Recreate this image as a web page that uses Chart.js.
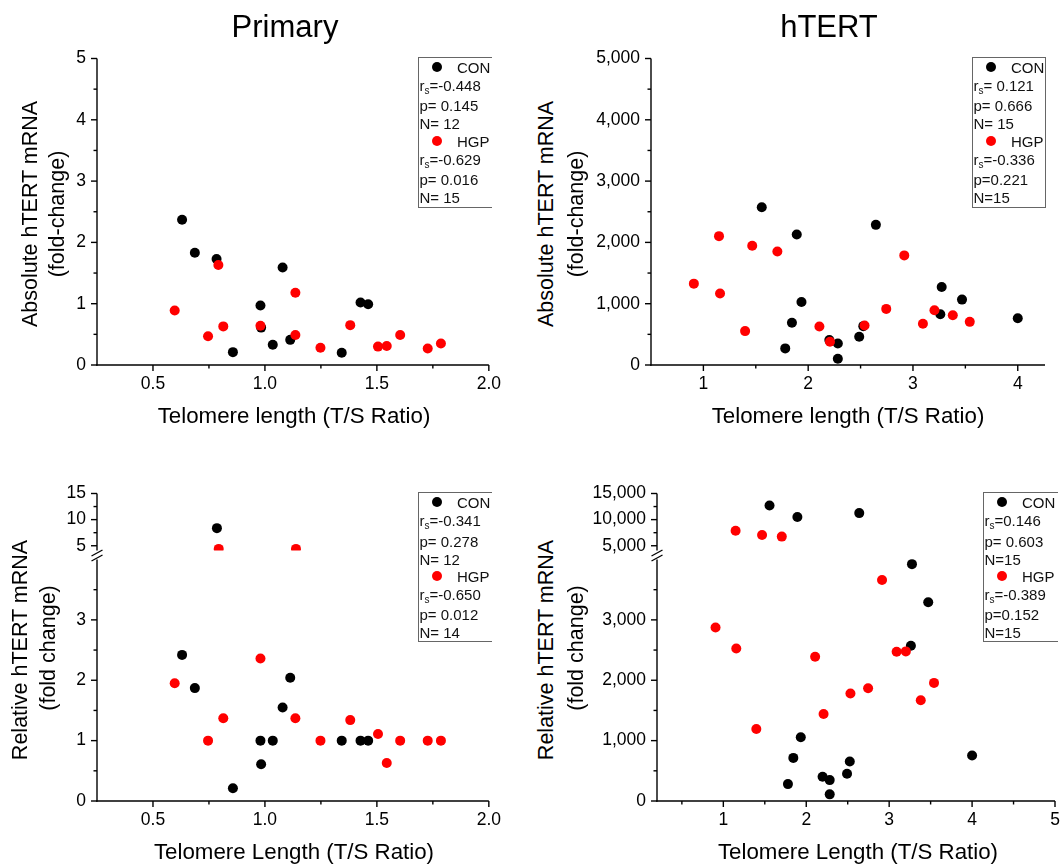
<!DOCTYPE html>
<html><head><meta charset="utf-8">
<script src="https://cdn.jsdelivr.net/npm/chart.js@4.4.1/dist/chart.umd.min.js"></script>
<style>
html,body{margin:0;padding:0;background:#fff}
body{width:1062px;height:864px;overflow:hidden;position:relative;font-family:'Liberation Sans',Arial,sans-serif;color:#000}
canvas{position:absolute}
.c{position:absolute;white-space:nowrap;line-height:1;transform:translate(-50%,-50%)}
.r{position:absolute;white-space:nowrap;line-height:1;transform:translate(-50%,-50%) rotate(-90deg)}
.lg{position:absolute;box-sizing:border-box;border:1px solid #666}
.lt{position:absolute;white-space:nowrap;line-height:1;transform:translateY(-50%);font-size:15px;color:#111}
.lt sub{font-size:10px;vertical-align:-3px;line-height:0}
.dot{position:absolute;width:10px;height:10px;border-radius:50%;transform:translate(-50%,-50%)}
</style></head><body>
<script>
// ---------------- DATA ----------------
// Panel 1: Primary, absolute hTERT mRNA
const con1X = [0.630,0.687,0.784,0.857,0.980,0.983,1.035,1.079,1.113,1.343,1.427,1.461];
const con1Y = [2.37,1.83,1.73,0.21,0.97,0.61,0.33,1.59,0.41,0.20,1.02,0.99];
const hgp1X = [0.597,0.746,0.792,0.814,0.980,1.136,1.136,1.248,1.381,1.505,1.544,1.604,1.727,1.786];
const hgp1Y = [0.89,0.47,1.63,0.63,0.64,1.18,0.49,0.28,0.65,0.30,0.31,0.49,0.27,0.35];
// Panel 2: hTERT, absolute hTERT mRNA
const con2X = [1.557,1.891,1.936,1.845,1.781,2.202,2.283,2.283,2.487,2.526,2.646,3.274,3.261,3.468,4.000];
const con2Y = [2573,2129,1029,688,271,406,352,103,460,634,2286,1273,829,1067,764];
const hgp2X = [0.909,1.149,1.159,1.398,1.466,1.706,2.107,2.208,2.538,2.745,2.917,3.095,3.205,3.380,3.542];
const hgp2Y = [1327,2102,1165,553,1945,1853,628,379,645,915,1788,672,894,813,704];
// Panel 3: Primary, relative hTERT mRNA (broken axis)
const con3X = [0.630,0.687,0.784,0.857,0.980,0.983,1.035,1.079,1.113,1.343,1.427,1.461];
const con3Y = [2.42,1.87,8.37,0.21,1.00,0.61,1.00,1.55,2.04,1.00,1.00,1.00];
const hgp3X = [0.597,0.746,0.792,0.814,0.980,1.136,1.136,1.248,1.381,1.505,1.544,1.604,1.727,1.786];
const hgp3Y = [1.95,1.00,4.40,1.37,2.36,4.40,1.37,1.00,1.34,1.11,0.63,1.00,1.00,1.00];
const p3Break = 4;
// Panel 4: hTERT, relative hTERT mRNA (broken axis)
const con4X = [1.557,1.893,2.639,3.275,3.471,3.262,1.934,1.844,1.779,2.197,2.283,2.283,2.492,2.525,4.000];
const con4Y = [12688,10500,11250,3923,3291,2571,1055,714,280,401,346,110,451,654,753];
const hgp4X = [1.148,1.467,1.705,2.914,0.906,1.156,2.107,3.090,3.201,3.541,2.746,2.533,3.381,2.209,1.398];
const hgp4Y = [7875,7063,6750,3659,2874,2527,2390,2473,2478,1956,1868,1780,1670,1440,1192];
const p4Break = 4000;

// Tick values / labels
const p1XTicks = [0.5,1.0,1.5,2.0], p1XLabels = ['0.5','1.0','1.5','2.0'], p1XMinor = [0.75,1.25,1.75];
const p1YTicks = [0,1,2,3,4,5], p1YLabels = ['0','1','2','3','4','5'], p1YMinor = [0.5,1.5,2.5,3.5,4.5];
const p2XTicks = [1,2,3,4], p2XLabels = ['1','2','3','4'], p2XMinor = [1.5,2.5,3.5];
const p2YTicks = [0,1000,2000,3000,4000,5000], p2YLabels = ['0','1,000','2,000','3,000','4,000','5,000'], p2YMinor = [500,1500,2500,3500,4500];
const p3LoYTicks = [0,1,2,3], p3LoYLabels = ['0','1','2','3'], p3LoYMinor = [0.5,1.5,2.5,3.5];
const p3HiYTicks = [5,10,15], p3HiYLabels = ['5','10','15'], p3HiYMinor = [7.5,12.5];
const p4XTicks = [1,2,3,4,5], p4XLabels = ['1','2','3','4','5'], p4XMinor = [0.5,1.5,2.5,3.5,4.5];
const p4LoYTicks = [0,1000,2000,3000], p4LoYLabels = ['0','1,000','2,000','3,000'], p4LoYMinor = [500,1500,2500,3500];
const p4HiYTicks = [5000,10000,15000], p4HiYLabels = ['5,000','10,000','15,000'], p4HiYMinor = [7500,12500];

// Legend texts
const leg1 = ['CON','=-0.448','p= 0.145','N= 12','HGP','=-0.629','p= 0.016','N= 15'];
const leg2 = ['CON','= 0.121','p= 0.666','N= 15','HGP','=-0.336','p=0.221','N=15'];
const leg3 = ['CON','=-0.341','p= 0.278','N= 12','HGP','=-0.650','p= 0.012','N= 14'];
const leg4 = ['CON','=0.146','p= 0.603','N=15','HGP','=-0.389','p=0.152','N=15'];

// ---------------- RENDERING ----------------
const FONT = "'Liberation Sans', Arial, sans-serif";
Chart.defaults.font.family = FONT;
Chart.defaults.color = '#000';
const WY = 70, HX = 40, P = 20, TICK = 17.5;

const tickMarks = {
  id: 'tickMarks',
  afterDraw(chart, args, o) {
    const ctx = chart.ctx, a = chart.chartArea, xs = chart.scales.x, ys = chart.scales.y;
    ctx.save();
    ctx.strokeStyle = '#000';
    ctx.lineWidth = 1.4;
    const seg = (x1,y1,x2,y2) => { ctx.beginPath(); ctx.moveTo(x1,y1); ctx.lineTo(x2,y2); ctx.stroke(); };
    seg(a.left, a.top, a.left, a.bottom + (o.showX ? 0.7 : 0));
    if (o.showX) {
      seg(a.left - 0.7, a.bottom, a.right, a.bottom);
      o.xMajor.forEach(v => { const p = xs.getPixelForValue(v); seg(p, a.bottom, p, a.bottom + 6); });
      o.xMinor.forEach(v => { const p = xs.getPixelForValue(v); seg(p, a.bottom, p, a.bottom + 3.5); });
    }
    o.yMajor.forEach(v => { const p = ys.getPixelForValue(v); seg(a.left, p, a.left - 6, p); });
    o.yMinor.forEach(v => { const p = ys.getPixelForValue(v); seg(a.left, p, a.left - 3.5, p); });
    if (o.brk) {
      ctx.lineWidth = 1.3;
      [a.top - 6.5, a.top - 1.5].forEach(cy => seg(a.left - 5.5, cy + 3, a.left + 5.5, cy - 3));
    }
    ctx.restore();
  }
};

function panel(c) {
  const hx = c.showX ? HX : 0;
  const lo = c.lo === undefined ? -Infinity : c.lo, hi = c.hi === undefined ? Infinity : c.hi;
  const cv = document.createElement('canvas');
  const left = c.L - WY - P, top = c.T - P;
  const w = c.R - c.L + WY + 2 * P, h = c.B - c.T + hx + 2 * P;
  cv.width = w; cv.height = h;
  cv.style.left = left + 'px'; cv.style.top = top + 'px';
  cv.style.width = w + 'px'; cv.style.height = h + 'px';
  document.body.appendChild(cv);
  const mk = (xs, ys, col) => ({
    data: xs.map((x, i) => ({ x: x, y: ys[i] })).filter(p => p.y > lo && p.y <= hi),
    backgroundColor: col, borderColor: col, borderWidth: 0,
    pointRadius: 5, pointHoverRadius: 5, clip: c.clip
  });
  new Chart(cv, {
    type: 'scatter',
    data: { datasets: [mk(c.hgpX, c.hgpY, '#ff0000'), mk(c.conX, c.conY, '#000000')] },
    options: {
      responsive: false, animation: false, events: [],
      layout: { padding: P },
      plugins: {
        legend: { display: false }, tooltip: { enabled: false },
        tickMarks: { showX: c.showX, xMajor: c.xTicks, xMinor: c.xMinor, yMajor: c.yTicks, yMinor: c.yMinor, brk: c.brk }
      },
      scales: {
        x: {
          type: 'linear', min: c.xMin, max: c.xMax, display: c.showX,
          grid: { display: false, drawTicks: false }, border: { display: false },
          afterBuildTicks: s => { s.ticks = c.xTicks.map(v => ({ value: v })); },
          afterFit: s => { s.height = hx; },
          ticks: { autoSkip: false, maxRotation: 0, minRotation: 0, padding: 9, font: { size: TICK }, color: '#000',
                   callback: (v, i) => c.xLabels[i] }
        },
        y: {
          type: 'linear', min: c.yMin, max: c.yMax,
          grid: { display: false, drawTicks: false }, border: { display: false },
          afterBuildTicks: s => { s.ticks = c.yTicks.map(v => ({ value: v })); },
          afterFit: s => { s.width = WY; },
          ticks: { autoSkip: false, padding: 11, font: { size: TICK }, color: '#000',
                   callback: (v, i) => c.yLabels[i] }
        }
      }
    },
    plugins: [tickMarks]
  });
}

// Panel 1
panel({ L: 97, T: 57, R: 490, B: 365, xMin: 0.25, xMax: 2.0, yMin: 0, yMax: 5, showX: true, clip: 0,
  xTicks: p1XTicks, xLabels: p1XLabels, xMinor: p1XMinor, yTicks: p1YTicks, yLabels: p1YLabels, yMinor: p1YMinor,
  conX: con1X, conY: con1Y, hgpX: hgp1X, hgpY: hgp1Y });
// Panel 2
panel({ L: 651, T: 57, R: 1045, B: 365, xMin: 0.5, xMax: 4.26, yMin: 0, yMax: 5000, showX: true, clip: 0,
  xTicks: p2XTicks, xLabels: p2XLabels, xMinor: p2XMinor, yTicks: p2YTicks, yLabels: p2YLabels, yMinor: p2YMinor,
  conX: con2X, conY: con2Y, hgpX: hgp2X, hgpY: hgp2Y });
// Panel 3 lower + upper
panel({ L: 97, T: 558, R: 490, B: 801, xMin: 0.25, xMax: 2.0, yMin: 0, yMax: 4, showX: true, brk: true,
  clip: { left: 0, top: 6, right: 0, bottom: 0 }, hi: p3Break,
  xTicks: p1XTicks, xLabels: p1XLabels, xMinor: p1XMinor, yTicks: p3LoYTicks, yLabels: p3LoYLabels, yMinor: p3LoYMinor,
  conX: con3X, conY: con3Y, hgpX: hgp3X, hgpY: hgp3Y });
panel({ L: 97, T: 492, R: 490, B: 552, xMin: 0.25, xMax: 2.0, yMin: 4.09, yMax: 15, showX: false, clip: 0, lo: p3Break,
  xTicks: [], xLabels: [], xMinor: [], yTicks: p3HiYTicks, yLabels: p3HiYLabels, yMinor: p3HiYMinor,
  conX: con3X, conY: con3Y, hgpX: hgp3X, hgpY: hgp3Y });
// Panel 4 lower + upper
panel({ L: 657, T: 558, R: 1055, B: 801, xMin: 0.2, xMax: 5, yMin: 0, yMax: 4000, showX: true, brk: true,
  clip: { left: 0, top: 6, right: 0, bottom: 0 }, hi: p4Break,
  xTicks: p4XTicks, xLabels: p4XLabels, xMinor: p4XMinor, yTicks: p4LoYTicks, yLabels: p4LoYLabels, yMinor: p4LoYMinor,
  conX: con4X, conY: con4Y, hgpX: hgp4X, hgpY: hgp4Y });
panel({ L: 657, T: 492, R: 1055, B: 552, xMin: 0.2, xMax: 5, yMin: 4090, yMax: 15000, showX: false, clip: 0, lo: p4Break,
  xTicks: [], xLabels: [], xMinor: [], yTicks: p4HiYTicks, yLabels: p4HiYLabels, yMinor: p4HiYMinor,
  conX: con4X, conY: con4Y, hgpX: hgp4X, hgpY: hgp4Y });

// ---------------- TEXT ----------------
function txt(cls, s, x, y, size) {
  const d = document.createElement('div');
  d.className = cls; d.textContent = s;
  d.style.left = x + 'px'; d.style.top = y + 'px'; d.style.fontSize = size + 'px';
  document.body.appendChild(d);
}
const AX = 22.3;
txt('c', 'Primary', 285, 26, 31);
txt('c', 'hTERT', 829, 26, 31);
txt('c', 'Telomere length (T/S Ratio)', 294, 416, AX);
txt('c', 'Telomere length (T/S Ratio)', 848, 416, AX);
txt('c', 'Telomere Length (T/S Ratio)', 294, 852, AX);
txt('c', 'Telomere Length (T/S Ratio)', 858, 852, AX);
txt('r', 'Absolute hTERT mRNA', 31, 214, 21.5);
txt('r', '(fold-change)', 58, 214, 21.5);
txt('r', 'Absolute hTERT mRNA', 547, 214, 21.5);
txt('r', '(fold-change)', 577, 214, 21.5);
txt('r', 'Relative hTERT mRNA', 21, 650, 21.5);
txt('r', '(fold change)', 49, 648, 21.5);
txt('r', 'Relative hTERT mRNA', 547, 650, 21.5);
txt('r', '(fold change)', 577, 648, 21.5);

function legend(x0, top, bottom, right, rightBorder, lines, ys) {
  const b = document.createElement('div');
  b.className = 'lg';
  b.style.left = x0 + 'px'; b.style.top = top + 'px';
  b.style.width = (right - x0) + 'px'; b.style.height = (bottom - top) + 'px';
  if (!rightBorder) b.style.borderRight = 'none';
  document.body.appendChild(b);
  lines.forEach((s, i) => {
    const d = document.createElement('div');
    d.className = 'lt';
    d.style.top = ys[i] + 'px';
    if (i === 0 || i === 4) {
      d.style.left = (x0 + 39.5) + 'px';
      d.textContent = s;
      const dot = document.createElement('div');
      dot.className = 'dot';
      dot.style.left = (x0 + 19.5) + 'px'; dot.style.top = ys[i] + 'px';
      dot.style.background = i === 0 ? '#000' : '#ff0000';
      document.body.appendChild(dot);
    } else if (i === 1 || i === 5) {
      d.style.left = (x0 + 2) + 'px';
      d.innerHTML = 'r<sub>s</sub>' + s;
    } else {
      d.style.left = (x0 + 2) + 'px';
      d.textContent = s;
    }
    document.body.appendChild(d);
  });
}
const topYs = [66.5, 84.5, 105, 123, 140.5, 158.5, 179.3, 197];
const botYs = [501.5, 519.5, 541, 559, 575.5, 593.5, 614, 632];
legend(417.5, 56.5, 207.5, 491.5, false, leg1, topYs);
legend(971.5, 56.5, 207.5, 1046, true, leg2, topYs);
legend(417.5, 491.5, 642, 491.5, false, leg3, botYs);
legend(982.5, 492, 642, 1058, false, leg4, botYs);
</script></body></html>
